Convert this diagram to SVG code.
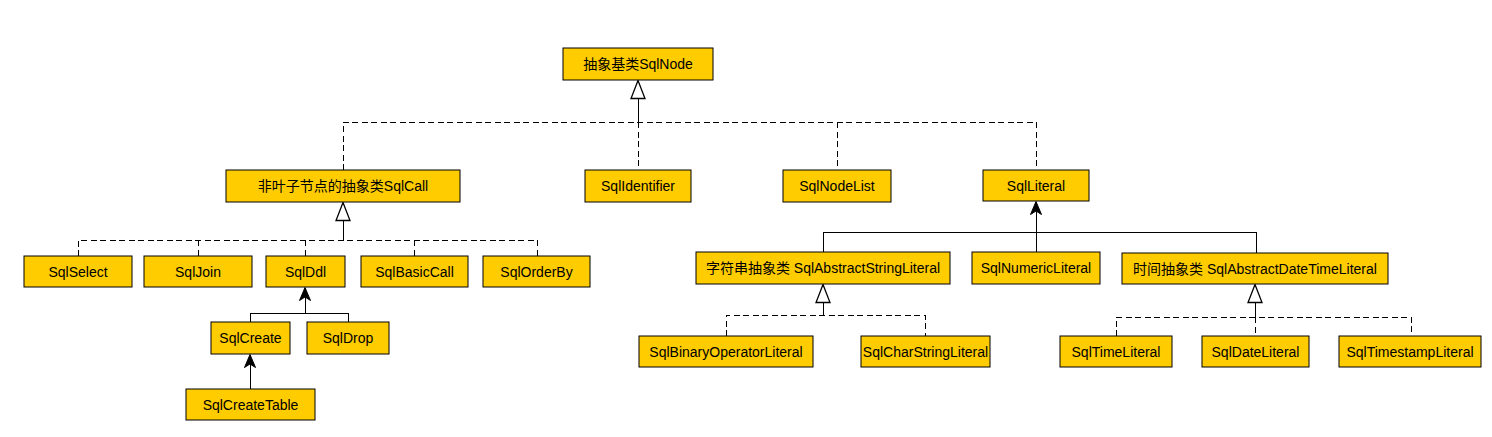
<svg xmlns="http://www.w3.org/2000/svg" width="1492" height="437" viewBox="0 0 1492 437">
<defs>
<style>
.box{fill:#ffcc00;stroke:#000;stroke-width:1}
.lbl{font-family:"Liberation Sans",Arial,"Noto Sans CJK SC",sans-serif;font-size:14px;fill:#000;text-anchor:middle;dominant-baseline:central}
.ln{fill:none;stroke:#000;stroke-width:1;shape-rendering:crispEdges}
.dash{fill:none;stroke:#000;stroke-width:1;stroke-dasharray:6 3.5;shape-rendering:crispEdges}
</style>
<marker id="hollow" viewBox="-20 -9 22 18" markerWidth="22" markerHeight="18" refX="0" refY="0" orient="auto" markerUnits="userSpaceOnUse">
<path d="M0,0 L-18,-7 L-18,7 Z" fill="#fff" stroke="#000" stroke-width="1.3" shape-rendering="auto"/>
</marker>
<marker id="filled" viewBox="-15 -7 17 14" markerWidth="17" markerHeight="14" refX="0" refY="0" orient="auto" markerUnits="userSpaceOnUse">
<path d="M0,0 L-13,-5.5 L-9.5,0 L-13,5.5 Z" fill="#000" stroke="#000" stroke-width="1" shape-rendering="auto"/>
</marker>
</defs>
<rect width="1492" height="437" fill="#fff"/>
<g id="connectors">
<path class="dash" d="M343,170 V122 H1036 V170"/>
<path class="dash" d="M638,122 V170"/>
<path class="dash" d="M837,122 V170"/>
<path class="ln" d="M638,122 V80.5" marker-end="url(#hollow)"/>
<path class="dash" d="M78,256 V240 H537 V256"/>
<path class="dash" d="M198,240 V256"/>
<path class="dash" d="M305,240 V256"/>
<path class="dash" d="M414,240 V256"/>
<path class="ln" d="M343,240 V202.5" marker-end="url(#hollow)"/>
<path class="ln" d="M250,322 V313 H348 V322"/>
<path class="ln" d="M305,313 V287.5" marker-end="url(#filled)"/>
<path class="ln" d="M250,389 V354.5" marker-end="url(#filled)"/>
<path class="ln" d="M823,252 V232 H1256 V253"/>
<path class="ln" d="M1036,252 V201.5" marker-end="url(#filled)"/>
<path class="dash" d="M726,336 V315 H925 V336"/>
<path class="ln" d="M823,315 V284.5" marker-end="url(#hollow)"/>
<path class="dash" d="M1116,336 V317 H1411 V336"/>
<path class="dash" d="M1255,317 V336"/>
<path class="ln" d="M1255,317 V284.5" marker-end="url(#hollow)"/>
</g>
<g id="SqlNode"><rect class="box" x="563" y="48" width="150" height="32"/><text class="lbl" x="638" y="64">抽象基类SqlNode</text></g>
<g id="SqlCall"><rect class="box" x="226" y="170" width="234" height="32"/><text class="lbl" x="343" y="186">非叶子节点的抽象类SqlCall</text></g>
<g id="SqlIdentifier"><rect class="box" x="585" y="170" width="106" height="32"/><text class="lbl" x="638" y="186">SqlIdentifier</text></g>
<g id="SqlNodeList"><rect class="box" x="783" y="170" width="108" height="32"/><text class="lbl" x="837" y="186">SqlNodeList</text></g>
<g id="SqlLiteral"><rect class="box" x="983" y="170" width="106" height="31"/><text class="lbl" x="1036" y="186">SqlLiteral</text></g>
<g id="SqlSelect"><rect class="box" x="24" y="256" width="108" height="31"/><text class="lbl" x="78" y="272">SqlSelect</text></g>
<g id="SqlJoin"><rect class="box" x="144" y="256" width="108" height="31"/><text class="lbl" x="198" y="272">SqlJoin</text></g>
<g id="SqlDdl"><rect class="box" x="266" y="256" width="79" height="31"/><text class="lbl" x="305.5" y="272">SqlDdl</text></g>
<g id="SqlBasicCall"><rect class="box" x="361" y="256" width="107" height="31"/><text class="lbl" x="414.5" y="272">SqlBasicCall</text></g>
<g id="SqlOrderBy"><rect class="box" x="483" y="256" width="107" height="31"/><text class="lbl" x="536.5" y="272">SqlOrderBy</text></g>
<g id="SqlCreate"><rect class="box" x="211" y="322" width="79" height="32"/><text class="lbl" x="250.5" y="338">SqlCreate</text></g>
<g id="SqlDrop"><rect class="box" x="307" y="322" width="82" height="32"/><text class="lbl" x="348" y="338">SqlDrop</text></g>
<g id="SqlCreateTable"><rect class="box" x="186" y="389" width="129" height="31"/><text class="lbl" x="250.5" y="405">SqlCreateTable</text></g>
<g id="SqlAbstractStringLiteral"><rect class="box" x="696" y="252" width="254" height="32"/><text class="lbl" x="823" y="268">字符串抽象类 SqlAbstractStringLiteral</text></g>
<g id="SqlNumericLiteral"><rect class="box" x="972" y="252" width="128" height="32"/><text class="lbl" x="1036" y="268">SqlNumericLiteral</text></g>
<g id="SqlAbstractDateTimeLiteral"><rect class="box" x="1122" y="253" width="266" height="31"/><text class="lbl" x="1255" y="269">时间抽象类 SqlAbstractDateTimeLiteral</text></g>
<g id="SqlBinaryOperatorLiteral"><rect class="box" x="639" y="336" width="174" height="31"/><text class="lbl" x="726" y="352">SqlBinaryOperatorLiteral</text></g>
<g id="SqlCharStringLiteral"><rect class="box" x="861" y="336" width="129" height="31"/><text class="lbl" x="925.5" y="352">SqlCharStringLiteral</text></g>
<g id="SqlTimeLiteral"><rect class="box" x="1060" y="336" width="112" height="31"/><text class="lbl" x="1116" y="352">SqlTimeLiteral</text></g>
<g id="SqlDateLiteral"><rect class="box" x="1202" y="336" width="107" height="31"/><text class="lbl" x="1255.5" y="352">SqlDateLiteral</text></g>
<g id="SqlTimestampLiteral"><rect class="box" x="1339" y="336" width="142" height="31"/><text class="lbl" x="1410" y="352">SqlTimestampLiteral</text></g>
</svg>
